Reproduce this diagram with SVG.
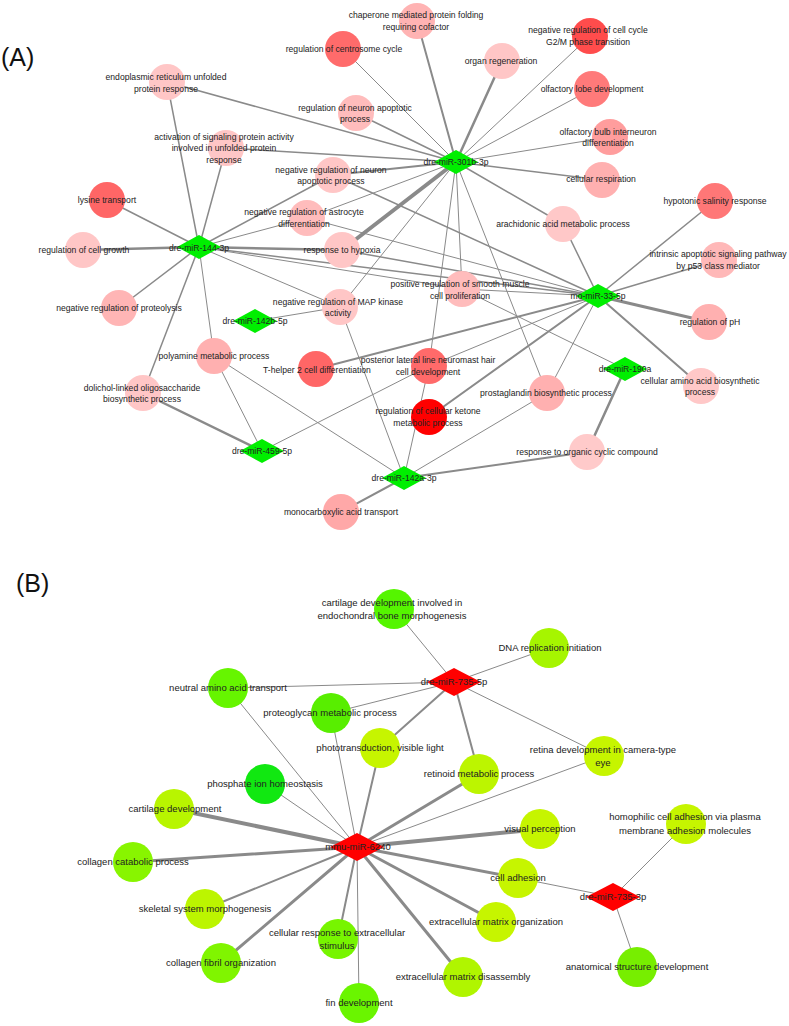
<svg xmlns="http://www.w3.org/2000/svg" width="789" height="1026" viewBox="0 0 789 1026">
<style>
.e line{stroke:#8a8a8a;stroke-linecap:round}
.w1{stroke-width:1}
.w15{stroke-width:1.5}
.w2{stroke-width:2}
.w25{stroke-width:2.5}
.w3{stroke-width:3}
.w4{stroke-width:4}
text{font-family:"Liberation Sans",Arial,sans-serif;fill:#222;text-anchor:middle}
.ta{font-size:8.6px}
.tb{font-size:9.5px}
.pl{font-size:25px;text-anchor:start;fill:#111}
.dg{fill:#00ef00}
.dr{fill:#ff0000}
</style>
<rect width="789" height="1026" fill="#fff"/>
<text class="pl" x="1" y="66">(A)</text>
<text class="pl" x="16" y="592">(B)</text>
<g id="connectors" class="e">
<!-- panel A: dre-miR-301b-3p -->
<line class="w2" x1="456" y1="162" x2="417" y2="21"/>
<line class="w1" x1="456" y1="162" x2="343" y2="49"/>
<line class="w25" x1="456" y1="162" x2="502" y2="61"/>
<line class="w1" x1="456" y1="162" x2="590" y2="36"/>
<line class="w1" x1="456" y1="162" x2="592" y2="89"/>
<line class="w1" x1="456" y1="162" x2="610" y2="137"/>
<line class="w15" x1="456" y1="162" x2="602" y2="180"/>
<line class="w15" x1="456" y1="162" x2="167" y2="82"/>
<line class="w15" x1="456" y1="162" x2="356" y2="113"/>
<line class="w15" x1="456" y1="162" x2="226" y2="148"/>
<line class="w2" x1="456" y1="162" x2="333" y2="175"/>
<line class="w1" x1="456" y1="162" x2="307" y2="218"/>
<line class="w4" x1="456" y1="162" x2="342" y2="250"/>
<line class="w1" x1="456" y1="162" x2="340" y2="307"/>
<line class="w1" x1="456" y1="162" x2="429" y2="366"/>
<line class="w1" x1="456" y1="162" x2="462" y2="289"/>
<line class="w1" x1="456" y1="162" x2="547" y2="393"/>
<line class="w15" x1="456" y1="162" x2="563" y2="224"/>
<!-- dre-miR-144-3p -->
<line class="w15" x1="199" y1="247" x2="107" y2="200"/>
<line class="w25" x1="199" y1="247" x2="83" y2="250"/>
<line class="w15" x1="199" y1="247" x2="119" y2="308"/>
<line class="w15" x1="199" y1="247" x2="167" y2="82"/>
<line class="w15" x1="199" y1="247" x2="226" y2="148"/>
<line class="w15" x1="199" y1="247" x2="333" y2="175"/>
<line class="w1" x1="199" y1="247" x2="307" y2="218"/>
<line class="w25" x1="199" y1="247" x2="342" y2="250"/>
<line class="w15" x1="199" y1="247" x2="598" y2="296"/>
<line class="w1" x1="199" y1="247" x2="462" y2="289"/>
<line class="w1" x1="199" y1="247" x2="340" y2="307"/>
<line class="w1" x1="199" y1="247" x2="214" y2="356"/>
<line class="w15" x1="199" y1="247" x2="143" y2="393"/>
<!-- mo-miR-33-5p -->
<line class="w15" x1="598" y1="296" x2="563" y2="224"/>
<line class="w15" x1="598" y1="296" x2="715" y2="201"/>
<line class="w15" x1="598" y1="296" x2="719" y2="260"/>
<line class="w3" x1="598" y1="296" x2="709" y2="322"/>
<line class="w2" x1="598" y1="296" x2="701" y2="386"/>
<line class="w15" x1="598" y1="296" x2="333" y2="175"/>
<line class="w1" x1="598" y1="296" x2="307" y2="218"/>
<line class="w15" x1="598" y1="296" x2="342" y2="250"/>
<line class="w1" x1="598" y1="296" x2="462" y2="289"/>
<line class="w2" x1="598" y1="296" x2="316" y2="369"/>
<line class="w1" x1="598" y1="296" x2="429" y2="366"/>
<line class="w2" x1="598" y1="296" x2="429" y2="417"/>
<line class="w1" x1="598" y1="296" x2="547" y2="393"/>
<!-- others A -->
<line class="w1" x1="255" y1="321" x2="340" y2="307"/>
<line class="w25" x1="262" y1="451" x2="143" y2="393"/>
<line class="w1" x1="262" y1="451" x2="214" y2="356"/>
<line class="w1" x1="262" y1="451" x2="429" y2="366"/>
<line class="w2" x1="404" y1="478" x2="341" y2="512"/>
<line class="w2" x1="404" y1="478" x2="587" y2="452"/>
<line class="w1" x1="404" y1="478" x2="547" y2="393"/>
<line class="w1" x1="404" y1="478" x2="429" y2="366"/>
<line class="w1" x1="404" y1="478" x2="340" y2="307"/>
<line class="w1" x1="404" y1="478" x2="214" y2="356"/>
<line class="w25" x1="625" y1="369" x2="587" y2="452"/>
<line class="w1" x1="625" y1="369" x2="462" y2="289"/>
<!-- panel B: dre-miR-735-5p -->
<line class="w1" x1="454" y1="682" x2="394" y2="609"/>
<line class="w1" x1="454" y1="682" x2="549" y2="648"/>
<line class="w1" x1="454" y1="682" x2="228" y2="688"/>
<line class="w1" x1="454" y1="682" x2="331" y2="713"/>
<line class="w2" x1="454" y1="682" x2="380" y2="748"/>
<line class="w2" x1="454" y1="682" x2="479" y2="774"/>
<line class="w1" x1="454" y1="682" x2="604" y2="756"/>
<!-- mmu-miR-6240 -->
<line class="w1" x1="357" y1="847" x2="228" y2="688"/>
<line class="w1" x1="357" y1="847" x2="331" y2="713"/>
<line class="w2" x1="357" y1="847" x2="380" y2="748"/>
<line class="w1" x1="357" y1="847" x2="265" y2="784"/>
<line class="w3" x1="357" y1="847" x2="479" y2="774"/>
<line class="w1" x1="357" y1="847" x2="604" y2="756"/>
<line class="w4" x1="357" y1="847" x2="174" y2="809"/>
<line class="w3" x1="357" y1="847" x2="133" y2="862"/>
<line class="w2" x1="357" y1="847" x2="205" y2="909"/>
<line class="w3" x1="357" y1="847" x2="221" y2="963"/>
<line class="w2" x1="357" y1="847" x2="338" y2="939"/>
<line class="w1" x1="357" y1="847" x2="359" y2="1003"/>
<line class="w4" x1="357" y1="847" x2="540" y2="829"/>
<line class="w3" x1="357" y1="847" x2="518" y2="878"/>
<line class="w3" x1="357" y1="847" x2="496" y2="922"/>
<line class="w3" x1="357" y1="847" x2="463" y2="977"/>
<!-- dre-miR-735-3p -->
<line class="w1" x1="613" y1="897" x2="518" y2="878"/>
<line class="w1" x1="613" y1="897" x2="686" y2="824"/>
<line class="w1" x1="613" y1="897" x2="637" y2="967"/>
</g>
<!-- panel A circles -->
<g id="chaperone"><circle cx="417" cy="21" r="18" fill="#ffb3b3"/><text class="ta" x="416" y="18">chaperone mediated protein folding</text><text class="ta" x="416" y="30">requiring cofactor</text></g>
<g id="centrosome"><circle cx="343" cy="49" r="18" fill="#ff6b6b"/><text class="ta" x="344" y="52">regulation of centrosome cycle</text></g>
<g id="g2m"><circle cx="590" cy="36" r="18" fill="#ff4c4c"/><text class="ta" x="588" y="33">negative regulation of cell cycle</text><text class="ta" x="588" y="45">G2/M phase transition</text></g>
<g id="organ-regen"><circle cx="502" cy="61" r="18" fill="#ffc6c6"/><text class="ta" x="501" y="64">organ regeneration</text></g>
<g id="olf-lobe"><circle cx="592" cy="89" r="18" fill="#ff7a7a"/><text class="ta" x="592" y="92">olfactory lobe development</text></g>
<g id="olf-bulb"><circle cx="610" cy="137" r="18" fill="#ff9d9d"/><text class="ta" x="608" y="135">olfactory bulb interneuron</text><text class="ta" x="608" y="146">differentiation</text></g>
<g id="cell-resp"><circle cx="602" cy="180" r="18" fill="#ffb0b0"/><text class="ta" x="601" y="182">cellular respiration</text></g>
<g id="er-unfolded"><circle cx="167" cy="82" r="18" fill="#ffc6c6"/><text class="ta" x="166" y="80">endoplasmic reticulum unfolded</text><text class="ta" x="166" y="92">protein response</text></g>
<g id="reg-neuron-apop"><circle cx="356" cy="113" r="18" fill="#ffbcbc"/><text class="ta" x="355" y="111">regulation of neuron apoptotic</text><text class="ta" x="355" y="122">process</text></g>
<g id="activation"><circle cx="226" cy="148" r="18" fill="#ffc6c6"/><text class="ta" x="224" y="140">activation of signaling protein activity</text><text class="ta" x="224" y="151">involved in unfolded protein</text><text class="ta" x="224" y="163">response</text></g>
<g id="neg-neuron-apop"><circle cx="333" cy="175" r="18" fill="#ffc6c6"/><text class="ta" x="331" y="173">negative regulation of neuron</text><text class="ta" x="331" y="184">apoptotic process</text></g>
<g id="lysine"><circle cx="107" cy="200" r="18" fill="#ff6666"/><text class="ta" x="107" y="203">lysine transport</text></g>
<g id="cell-growth"><circle cx="83" cy="250" r="18" fill="#ffc6c6"/><text class="ta" x="84" y="253">regulation of cell growth</text></g>
<g id="astrocyte"><circle cx="307" cy="218" r="18" fill="#ffbcbc"/><text class="ta" x="304" y="215">negative regulation of astrocyte</text><text class="ta" x="304" y="227">differentiation</text></g>
<g id="hypoxia"><circle cx="342" cy="250" r="18" fill="#ffc6c6"/><text class="ta" x="342" y="253">response to hypoxia</text></g>
<g id="proteolysis"><circle cx="119" cy="308" r="18" fill="#ffb5b5"/><text class="ta" x="119" y="311">negative regulation of proteolysis</text></g>
<g id="smooth-muscle"><circle cx="462" cy="289" r="18" fill="#ffbcbc"/><text class="ta" x="460" y="287">positive regulation of smooth muscle</text><text class="ta" x="460" y="299">cell proliferation</text></g>
<g id="map-kinase"><circle cx="340" cy="307" r="18" fill="#ffc6c6"/><text class="ta" x="338" y="305">negative regulation of MAP kinase</text><text class="ta" x="338" y="316">activity</text></g>
<g id="arachidonic"><circle cx="563" cy="224" r="18" fill="#ffc8c8"/><text class="ta" x="563" y="227">arachidonic acid metabolic process</text></g>
<g id="hypotonic"><circle cx="715" cy="201" r="18" fill="#ff7777"/><text class="ta" x="715" y="204">hypotonic salinity response</text></g>
<g id="intrinsic"><circle cx="719" cy="260" r="18" fill="#ffb8b8"/><text class="ta" x="718" y="257">intrinsic apoptotic signaling pathway</text><text class="ta" x="718" y="269">by p53 class mediator</text></g>
<g id="ph"><circle cx="709" cy="322" r="18" fill="#ffb0b0"/><text class="ta" x="710" y="325">regulation of pH</text></g>
<g id="polyamine"><circle cx="214" cy="356" r="18" fill="#ffb0b0"/><text class="ta" x="214" y="359">polyamine metabolic process</text></g>
<g id="t-helper"><circle cx="316" cy="369" r="18" fill="#ff6666"/><text class="ta" x="317" y="373">T-helper 2 cell differentiation</text></g>
<g id="posterior"><circle cx="429" cy="366" r="18" fill="#ff6a6a"/><text class="ta" x="428" y="363">posterior lateral line neuromast hair</text><text class="ta" x="428" y="375">cell development</text></g>
<g id="dolichol"><circle cx="143" cy="393" r="18" fill="#ffc6c6"/><text class="ta" x="142" y="391">dolichol-linked oligosaccharide</text><text class="ta" x="142" y="402">biosynthetic process</text></g>
<g id="ketone"><circle cx="429" cy="417" r="18" fill="#ff0000"/><text class="ta" x="428" y="414">regulation of cellular ketone</text><text class="ta" x="428" y="426">metabolic process</text></g>
<g id="prostaglandin"><circle cx="547" cy="393" r="18" fill="#ffb0b0"/><text class="ta" x="546" y="396">prostaglandin biosynthetic process</text></g>
<g id="amino-biosyn"><circle cx="701" cy="386" r="18" fill="#ffc8c8"/><text class="ta" x="700" y="384">cellular amino acid biosynthetic</text><text class="ta" x="700" y="395">process</text></g>
<g id="organic-cyclic"><circle cx="587" cy="452" r="18" fill="#ffcaca"/><text class="ta" x="587" y="455">response to organic cyclic compound</text></g>
<g id="monocarboxylic"><circle cx="341" cy="512" r="18" fill="#ffa8a8"/><text class="ta" x="341" y="515">monocarboxylic acid transport</text></g>
<!-- panel A hubs -->
<g id="mir-301b-3p"><polygon class="dg" points="434,162 456,150 478,162 456,174"/><text class="ta" x="456" y="165">dre-miR-301b-3p</text></g>
<g id="mir-144-3p"><polygon class="dg" points="177,247 199,235 221,247 199,259"/><text class="ta" x="199" y="251">dre-miR-144-3p</text></g>
<g id="mir-33-5p"><polygon class="dg" points="576,296 598,284 620,296 598,308"/><text class="ta" x="598" y="299">mo-miR-33-5p</text></g>
<g id="mir-142b-5p"><polygon class="dg" points="233,321 255,309 277,321 255,333"/><text class="ta" x="255" y="324">dre-miR-142b-5p</text></g>
<g id="mir-459-5p"><polygon class="dg" points="240,451 262,439 284,451 262,463"/><text class="ta" x="262" y="454">dre-miR-459-5p</text></g>
<g id="mir-142a-3p"><polygon class="dg" points="382,478 404,466 426,478 404,490"/><text class="ta" x="404" y="481">dre-miR-142a-3p</text></g>
<g id="mir-190a"><polygon class="dg" points="603,369 625,357 647,369 625,381"/><text class="ta" x="625" y="372">dre-miR-190a</text></g>
<!-- panel B circles -->
<g id="cart-endo"><circle cx="394" cy="609" r="20" fill="#55f500"/><text class="tb" x="392" y="606">cartilage development involved in</text><text class="tb" x="392" y="619">endochondral bone morphogenesis</text></g>
<g id="dna-rep"><circle cx="549" cy="648" r="20" fill="#a6f500"/><text class="tb" x="550" y="651">DNA replication initiation</text></g>
<g id="neutral-aa"><circle cx="228" cy="688" r="20" fill="#66f500"/><text class="tb" x="228" y="691">neutral amino acid transport</text></g>
<g id="proteoglycan"><circle cx="331" cy="713" r="20" fill="#58ee00"/><text class="tb" x="330" y="716">proteoglycan metabolic process</text></g>
<g id="phototrans"><circle cx="380" cy="748" r="20" fill="#c6f500"/><text class="tb" x="380" y="751">phototransduction, visible light</text></g>
<g id="retina"><circle cx="604" cy="756" r="20" fill="#c6f500"/><text class="tb" x="603" y="753">retina development in camera-type</text><text class="tb" x="603" y="766">eye</text></g>
<g id="retinoid"><circle cx="479" cy="774" r="20" fill="#bcf500"/><text class="tb" x="479" y="777">retinoid metabolic process</text></g>
<g id="phosphate"><circle cx="265" cy="784" r="20" fill="#11e811"/><text class="tb" x="265" y="787">phosphate ion homeostasis</text></g>
<g id="cartilage"><circle cx="174" cy="809" r="20" fill="#b8f500"/><text class="tb" x="175" y="812">cartilage development</text></g>
<g id="coll-catab"><circle cx="133" cy="862" r="20" fill="#88f500"/><text class="tb" x="133" y="865">collagen catabolic process</text></g>
<g id="skeletal"><circle cx="205" cy="909" r="20" fill="#bcf500"/><text class="tb" x="205" y="912">skeletal system morphogenesis</text></g>
<g id="coll-fibril"><circle cx="221" cy="963" r="20" fill="#80f500"/><text class="tb" x="221" y="966">collagen fibril organization</text></g>
<g id="cell-resp-ec"><circle cx="338" cy="939" r="20" fill="#77f500"/><text class="tb" x="337" y="936">cellular response to extracellular</text><text class="tb" x="337" y="949">stimulus</text></g>
<g id="fin"><circle cx="359" cy="1003" r="20" fill="#6af500"/><text class="tb" x="359" y="1006">fin development</text></g>
<g id="visual"><circle cx="540" cy="829" r="20" fill="#c6f500"/><text class="tb" x="540" y="832">visual perception</text></g>
<g id="homophilic"><circle cx="686" cy="824" r="20" fill="#c6f500"/><text class="tb" x="685" y="820">homophilic cell adhesion via plasma</text><text class="tb" x="685" y="834">membrane adhesion molecules</text></g>
<g id="cell-adh"><circle cx="518" cy="878" r="20" fill="#c6f500"/><text class="tb" x="518" y="881">cell adhesion</text></g>
<g id="ecm-org"><circle cx="496" cy="922" r="20" fill="#c6f500"/><text class="tb" x="496" y="925">extracellular matrix organization</text></g>
<g id="ecm-dis"><circle cx="463" cy="977" r="20" fill="#b0f500"/><text class="tb" x="463" y="980">extracellular matrix disassembly</text></g>
<g id="anatomical"><circle cx="637" cy="967" r="20" fill="#77ee00"/><text class="tb" x="637" y="970">anatomical structure development</text></g>
<!-- panel B hubs -->
<g id="mir-735-5p"><polygon class="dr" points="427,682 454,668 481,682 454,696"/><text class="tb" x="454" y="685">dre-miR-735-5p</text></g>
<g id="mir-6240"><polygon class="dr" points="330,847 357,833 384,847 357,861"/><text class="tb" x="358" y="850">mmu-miR-6240</text></g>
<g id="mir-735-3p"><polygon class="dr" points="586,897 613,883 640,897 613,911"/><text class="tb" x="613" y="900">dre-miR-735-3p</text></g>
</svg>
